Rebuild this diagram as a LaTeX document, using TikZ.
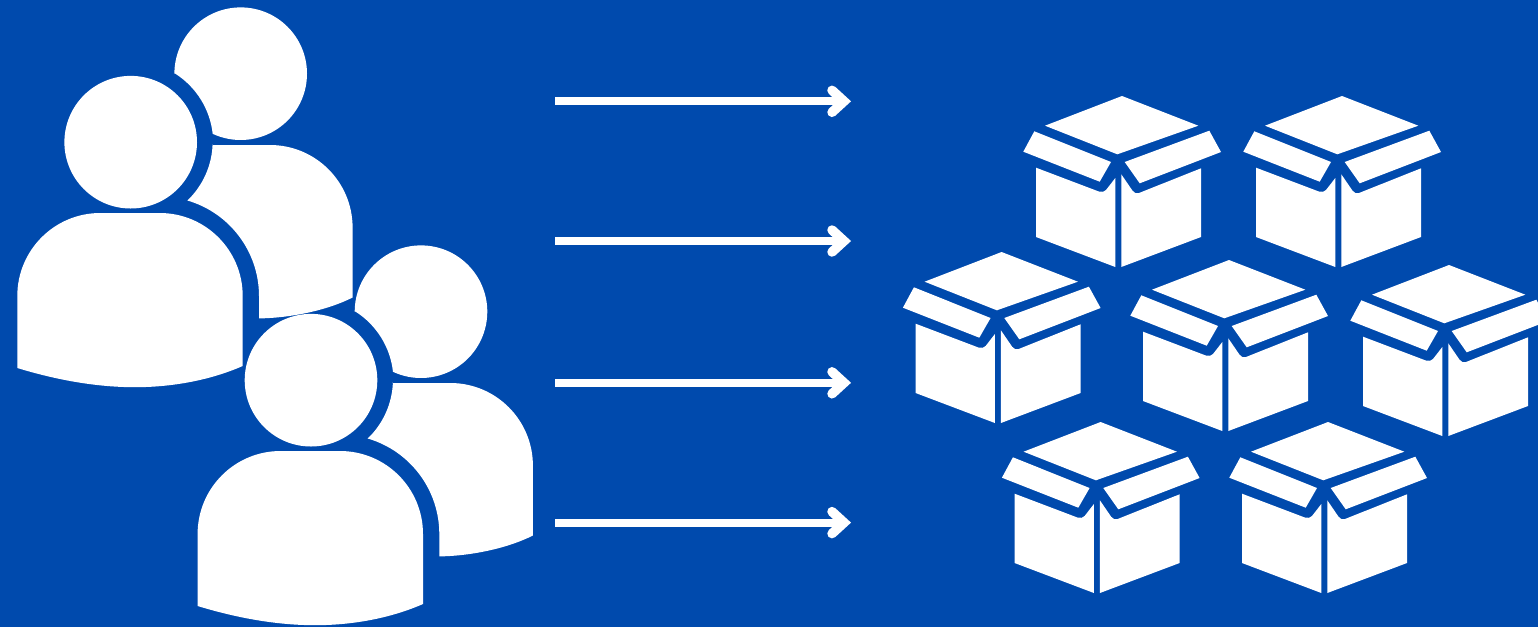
\documentclass[tikz,border=0pt]{standalone}
\definecolor{bgblue}{HTML}{004AAD}
\tikzset{
  shapefill/.style={fill=white,draw=none},
  arrowline/.style={draw=white,line width=8pt,line cap=butt},
  arrowtip/.style={draw=white,line width=9.5pt,line cap=round,line join=miter}
}
\newcommand{\personicon}{%
    \fill[shapefill] (174.4,73.7) arc[start angle=180,end angle=475,radius=66.3]
      arc[start angle=-6.3,end angle=-57.5,radius=82] -- cycle;
    \fill[shapefill] (212.3,145) -- (270,145) arc[start angle=-90,end angle=0,radius=82.6]
      -- (352.6,297.5) .. controls (327,310.5) and (290,318) .. (259,318.4)
      -- (259,296) arc[start angle=0,end angle=-73.7,radius=99.5]
      arc[start angle=46.2,end angle=2.1,radius=82] -- cycle;
    \fill[shapefill] (130.7,142.2) circle[radius=66.3];
    \fill[shapefill] (17.3,368) -- (17.3,296) arc[start angle=180,end angle=270,radius=83]
      -- (159.7,213) arc[start angle=-90,end angle=0,radius=83]
      -- (242.7,366) .. controls (205,382.5) and (165,387.2) .. (135,387.2)
      .. controls (95,387.2) and (55,379.5) .. (17.3,368) -- cycle;
}
\newcommand{\boxicon}{%
    \fill[shapefill] (0,0) -- (76.3,29.7) -- (-4.7,58.3) -- (-77,29.7) -- cycle;
    \fill[shapefill] (-87.7,35.3) -- (-11,66) -- (-22.3,85.7) -- (-98.7,55.7) -- cycle;
    \fill[shapefill] (87.3,34.7) -- (99,56) -- (17.7,87.3) -- (2.7,66) -- cycle;
    \fill[shapefill] (-86,71.7) -- (-22.7,95.7) .. controls (-20,96.3) and (-17.5,95.8) .. (-16,94)
      -- (-6.7,82) -- (-6.7,171) -- (-86,141) -- cycle;
    \fill[shapefill] (-0.7,78.3) -- (10.5,94.7) .. controls (12,97) and (14.5,97.8) .. (17,97)
      -- (79,72.3) -- (79,141) -- (-0.7,171) -- cycle;
}
\begin{document}
\begin{tikzpicture}[x=1pt,y=1pt,yscale=-1]
  \useasboundingbox (0,0) rectangle (1538,627);
  \clip (0,0) rectangle (1538,627);
  \fill[bgblue] (0,0) rectangle (1538,627);
  \foreach \px/\py in {0/0,180.3/238}{
    \begin{scope}[shift={(\px,\py)}]\personicon\end{scope}
  }
  \foreach \yy [count=\i] in {101.3,241,382.8,522.6}{
    \coordinate (s\i) at (555,\yy);
    \coordinate (t\i) at (844,\yy);
    \coordinate (u\i) at (832,\yy-11);
    \coordinate (d\i) at (832,\yy+11);
    \draw[arrowline] (s\i) -- (t\i);
    \draw[arrowtip] (u\i) -- (t\i) -- (d\i);
  }
  \foreach \bx/\by in {1122/96,1342/96,1001.6/252,1229/260,1449/265,1100.6/422,1328/422}{
    \begin{scope}[shift={(\bx,\by)}]\boxicon\end{scope}
  }
\end{tikzpicture}
\end{document}
